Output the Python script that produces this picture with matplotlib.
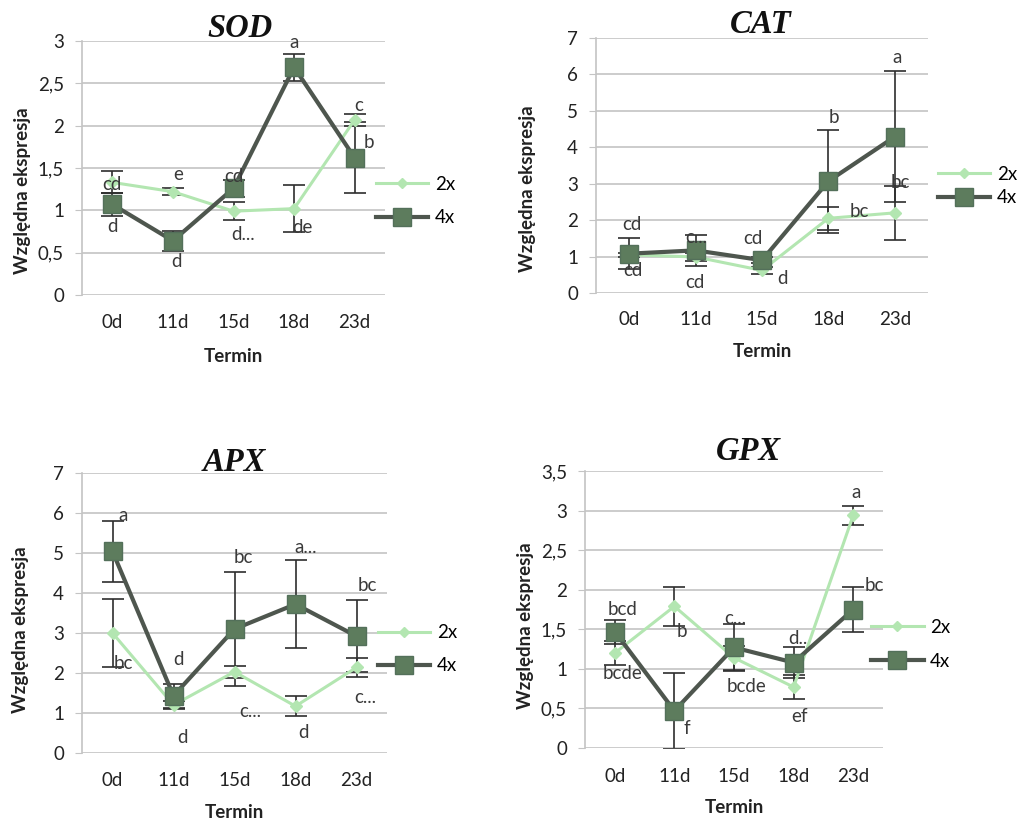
import matplotlib
matplotlib.use('Agg')
import matplotlib.pyplot as plt
from matplotlib.lines import Line2D
from matplotlib.ticker import FuncFormatter, MultipleLocator
import numpy as np

# ── Data ──────────────────────────────────────────────────────
terms = ['0d', '11d', '15d', '18d', '23d']

sod_2x = [1.33, 1.22, 0.99, 1.02, 2.07]
sod_2x_err = [0.13, 0.04, 0.11, 0.28, 0.07]
sod_4x = [1.07, 0.64, 1.26, 2.69, 1.62]
sod_4x_err = [0.14, 0.12, 0.10, 0.16, 0.42]
sod_lab_2x = ['cd', 'e', 'd...', 'de', 'c']
sod_lab_4x = ['d', 'd', 'cd', 'a', 'b']

cat_2x = [1.05, 0.99, 0.62, 2.05, 2.20]
cat_2x_err = [0.05, 0.10, 0.10, 0.32, 0.75]
cat_4x = [1.08, 1.17, 0.90, 3.07, 4.29]
cat_4x_err = [0.42, 0.42, 0.08, 1.41, 1.80]
cat_lab_2x = ['cd', 'cd', 'd', 'bc', 'bc']
cat_lab_4x = ['cd', 'c...', 'cd', 'b', 'a']

apx_2x = [3.00, 1.20, 2.03, 1.17, 2.14]
apx_2x_err = [0.85, 0.10, 0.15, 0.25, 0.24]
apx_4x = [5.04, 1.43, 3.10, 3.72, 2.92]
apx_4x_err = [0.76, 0.30, 1.43, 1.10, 0.90]
apx_lab_2x = ['bc', 'd', 'c...', 'd', 'c...']
apx_lab_4x = ['a', 'd', 'bc', 'a...', 'bc']

gpx_2x = [1.20, 1.79, 1.14, 0.77, 2.94]
gpx_2x_err = [0.15, 0.25, 0.15, 0.15, 0.12]
gpx_4x = [1.47, 0.47, 1.27, 1.08, 1.75]
gpx_4x_err = [0.15, 0.48, 0.30, 0.20, 0.28]
gpx_lab_2x = ['bcde', 'b', 'bcde', 'ef', 'a']
gpx_lab_4x = ['bcd', 'f', 'c...', 'd..', 'bc']

# ── Theme ─────────────────────────────────────────────────────
C2X = '#b3e6b1'
C4X_LINE = '#4e564e'
C4X_MARK = '#5d7c5d'
ERR_CLR = '#2e2e2e'
GRID_CLR = '#c4c4c4'
TXT = '#3a3a3a'
FS = 13.5
plt.rcParams['font.family'] = 'Lato'

# label offsets in pixels (dx, dy up) relative to each point
sod_off_2x = [(0, -2), (5, 17), (10, -23), (8, -19), (4, 14)]
sod_off_4x = [(0, -22), (4, -21), (0, 12), (0, 25), (14, 15)]
cat_off_2x = [(4, -16), (-1, -26), (21, -8), (31, 7), (6, 30)]
cat_off_4x = [(3, 29), (1, 13), (-9, 22), (5, 64), (2, 79)]
apx_off_2x = [(11, -30), (9, -32), (16, -40), (8, -26), (9, -30)]
apx_off_4x = [(11, 36), (5, 36), (9, 72), (10, 57), (11, 51)]
gpx_off_2x = [(8, -20), (7, -25), (13, -29), (6, -29), (3, 23)]
gpx_off_4x = [(8, 22), (12, -18), (1, 29), (4, 24), (21, 24)]

W, H = 1017, 822
fig = plt.figure(figsize=(W / 100, H / 100), dpi=100)
fig.patch.set_facecolor('white')


def px_axes(left, right, top, bottom):
    return fig.add_axes([left / W, 1 - bottom / H, (right - left) / W, (bottom - top) / H])


def draw_panel(ax, title, ymax, ystep, y2, e2, y4, e4, lab2, lab4, off2, off4,
               title_pos, ylab_pos, xlab_y, tick_pad, leg_anchor, leg_space):
    x = np.arange(len(terms))
    ax.errorbar(x, y2, yerr=e2, fmt='none', ecolor=ERR_CLR, elinewidth=1.2,
                capsize=8, capthick=1.2, zorder=3)
    ax.errorbar(x, y4, yerr=e4, fmt='none', ecolor=ERR_CLR, elinewidth=1.2,
                capsize=8, capthick=1.2, zorder=3)
    ax.plot(x, y2, color=C2X, linewidth=2.2, marker='D', markersize=6,
            markerfacecolor=C2X, markeredgecolor=C2X, zorder=4)
    ax.plot(x, y4, color=C4X_LINE, linewidth=3, marker='s', markersize=12.5,
            markerfacecolor=C4X_MARK, markeredgecolor='#53705a', zorder=5)

    for xi, yi, s, (dx, dy) in zip(x, y2, lab2, off2):
        ax.annotate(s, (xi, yi), xytext=(dx * 0.72, dy * 0.72), textcoords='offset points',
                    ha='center', va='center', fontsize=FS, color=TXT, zorder=6)
    for xi, yi, s, (dx, dy) in zip(x, y4, lab4, off4):
        ax.annotate(s, (xi, yi), xytext=(dx * 0.72, dy * 0.72), textcoords='offset points',
                    ha='center', va='center', fontsize=FS, color=TXT, zorder=6)

    ax.set_xlim(-0.5, len(terms) - 0.5)
    ax.set_ylim(0, ymax)
    ax.yaxis.set_major_locator(MultipleLocator(ystep))
    ax.yaxis.set_major_formatter(FuncFormatter(lambda v, _: f'{v:g}'.replace('.', ',')))
    ax.set_xticks(x)
    ax.set_xticklabels(terms)
    ax.grid(True, axis='y', color=GRID_CLR, linewidth=1.2)
    ax.set_axisbelow(True)
    for side in ['top', 'right', 'bottom']:
        ax.spines[side].set_visible(False)
    ax.spines['left'].set_color(GRID_CLR)
    ax.spines['left'].set_linewidth(1.2)
    ax.tick_params(axis='x', length=0, pad=tick_pad, labelsize=FS, colors='#222222')
    ax.tick_params(axis='y', length=5, color=GRID_CLR, pad=8, labelsize=FS, colors='#222222')

    ax.set_ylabel('Względna ekspresja', fontsize=FS, fontweight='bold', color='#222222')
    ax.yaxis.label.set_va('center')
    ax.yaxis.set_label_coords(*ylab_pos)
    ax.set_xlabel('Termin', fontsize=FS, fontweight='bold', color='#222222')
    ax.xaxis.label.set_va('center')
    ax.xaxis.set_label_coords(0.5, xlab_y)
    ax.text(title_pos[0], title_pos[1], title, transform=ax.transAxes, ha='center', va='center',
            fontsize=23.5, fontweight='bold', style='italic', family='Liberation Serif',
            color='#111111')

    handles = [Line2D([], [], color=C2X, linewidth=2.2, marker='D', markersize=5,
                      markerfacecolor=C2X, markeredgecolor=C2X),
               Line2D([], [], color=C4X_LINE, linewidth=3, marker='s', markersize=12.5,
                      markerfacecolor=C4X_MARK, markeredgecolor='#53705a')]
    ax.legend(handles, ['2x', '4x'], loc='center left', bbox_to_anchor=leg_anchor,
              frameon=False, fontsize=FS, handlelength=2.8, handletextpad=0.35,
              labelspacing=leg_space, borderpad=0, borderaxespad=0)


ax_sod = px_axes(82, 385, 41, 295)
draw_panel(ax_sod, 'SOD', 3, 0.5, sod_2x, sod_2x_err, sod_4x, sod_4x_err,
           sod_lab_2x, sod_lab_4x, sod_off_2x, sod_off_4x,
           (0.52, 1.051), (-0.198, 0.41), -0.244, 14, (0.97, 0.37), 0.9)

ax_cat = px_axes(596, 928, 38, 293)
draw_panel(ax_cat, 'CAT', 7, 1, cat_2x, cat_2x_err, cat_4x, cat_4x_err,
           cat_lab_2x, cat_lab_4x, cat_off_2x, cat_off_4x,
           (0.497, 1.051), (-0.205, 0.41), -0.231, 13, (1.03, 0.42), 0.35)

ax_apx = px_axes(82, 387, 473, 753)
draw_panel(ax_apx, 'APX', 7, 1, apx_2x, apx_2x_err, apx_4x, apx_4x_err,
           apx_lab_2x, apx_lab_4x, apx_off_2x, apx_off_4x,
           (0.50, 1.039), (-0.203, 0.44), -0.214, 14, (0.97, 0.37), 0.85)

ax_gpx = px_axes(585, 883, 471, 748)
draw_panel(ax_gpx, 'GPX', 3.5, 0.5, gpx_2x, gpx_2x_err, gpx_4x, gpx_4x_err,
           gpx_lab_2x, gpx_lab_4x, gpx_off_2x, gpx_off_4x,
           (0.55, 1.069), (-0.201, 0.44), -0.213, 14.5, (0.96, 0.374), 0.9)

fig.savefig('out.png', dpi=100, facecolor='white')
